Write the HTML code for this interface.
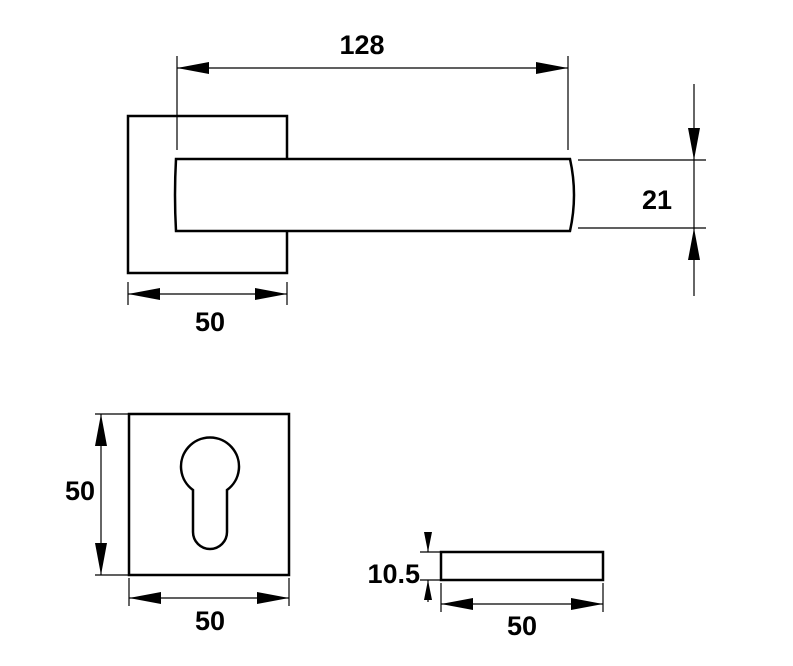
<!DOCTYPE html>
<html><head><style>body{margin:0;background:#fff}svg{display:block}text{font-family:"Liberation Sans",sans-serif;font-weight:bold;font-size:27px;fill:#000}</style></head><body>
<svg width="793" height="666" viewBox="0 0 793 666" xmlns="http://www.w3.org/2000/svg">
<g fill="none" stroke="#000">
<path d="M287 158V116H128V273H287V230" stroke-width="2.5"/>
<path d="M176 159H570Q578 195 570 231H176Q174 195 176 159Z" stroke-width="2.5" fill="#fff"/>
<path d="M177 56V150M568 56V150M177 68H568" stroke-width="1.2"/>
<path d="M694 84V296M578 160H706M578 228H706" stroke-width="1.2"/>
<path d="M128 282V305M287 282V305M128 294H287" stroke-width="1.2"/>
<rect x="129" y="414" width="160" height="161" stroke-width="2.5"/>
<path d="M193 490A29 29 0 1 1 227 490V532A17 17 0 0 1 193 532Z" stroke-width="2.5"/>
<path d="M95 414H128M95 575H128M101 414V575M129 578V606M289 578V606M129 598H289" stroke-width="1.2"/>
<rect x="441" y="552" width="162" height="28" stroke-width="2.5"/>
<path d="M420 552H441M420 580H441M428 532V552M428 580V602M441 583V612M603 583V612M441 604H603" stroke-width="1.2"/>
</g>
<g fill="#000">
<path d="M177 68L209 62V74Z M568 68L536 62V74Z"/>
<path d="M694 160L688 128H700Z M694 228L688 260H700Z"/>
<path d="M128 294L160 288V300Z M287 294L255 288V300Z"/>
<path d="M101 414L95 446H107Z M101 575L95 543H107Z"/>
<path d="M129 598L161 592V604Z M289 598L257 592V604Z"/>
<path d="M428 552L424 532H432Z M428 580L424 600H432Z"/>
<path d="M441 604L473 598V610Z M603 604L571 598V610Z"/>
</g>
<text x="362" y="54" text-anchor="middle">128</text>
<text x="657" y="209" text-anchor="middle">21</text>
<text x="210" y="331" text-anchor="middle">50</text>
<text x="80" y="500" text-anchor="middle">50</text>
<text x="210" y="630" text-anchor="middle">50</text>
<text x="420" y="583" text-anchor="end">10.5</text>
<text x="522" y="635" text-anchor="middle">50</text>
</svg>
</body></html>
